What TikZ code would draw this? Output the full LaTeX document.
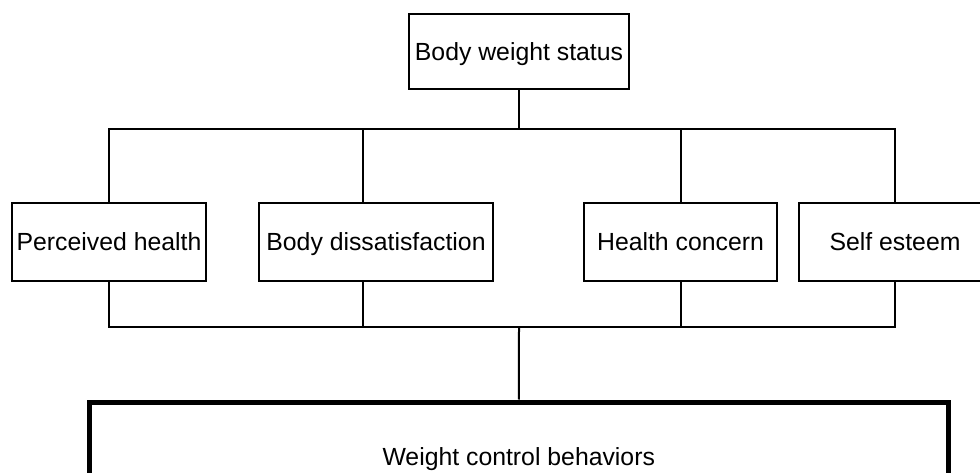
\documentclass[tikz,border=0pt]{standalone}
\usepackage{fontspec}
\setmainfont{Liberation Sans}
\begin{document}
\begin{tikzpicture}[x=0.75pt,y=-0.75pt,
    factor/.style={shape=rectangle,draw=black,line width=1.5pt,minimum height=58.5pt,inner sep=0pt,text height=13.3pt,text depth=0pt,font=\fontsize{18.6}{22}\selectfont},
    link/.style={draw=black,line width=1.5pt}]
    \useasboundingbox (0,0) rectangle (980,473);
    \node[factor,minimum width=165pt,minimum height=56.25pt] (status) at (519,51.5) {Body weight status};
    \node[factor,minimum width=145.5pt] (health) at (109,242) {Perceived health};
    \node[factor,minimum width=175.5pt] (dissat) at (376,242) {Body dissatisfaction};
    \node[factor,minimum width=144.75pt] (concern) at (680.5,242) {Health concern};
    \node[factor,minimum width=144pt] (esteem) at (895,242) {Self esteem};
    \node[factor,line width=3.75pt,minimum width=644pt,minimum height=82.5pt] (control) at (518.75,457) {Weight control behaviors};
    \coordinate (topbus) at (519,129);
    \coordinate (lowbus) at (519,327);
    \path [link](status) -- (topbus);
    \path [link](health.north) |- (topbus) -| (esteem.north);
    \path [link]([xshift=-9.75pt]dissat.north) -- ([xshift=-9.75pt]dissat.north |- topbus);
    \path [link](concern.north) -- (concern.north |- topbus);
    \path [link](health.south) |- (lowbus) -| (esteem.south);
    \path [link]([xshift=-9.75pt]dissat.south) -- ([xshift=-9.75pt]dissat.south |- lowbus);
    \path [link](concern.south) -- (concern.south |- lowbus);
    \path [link](lowbus) -- (control);
\end{tikzpicture}
\end{document}
